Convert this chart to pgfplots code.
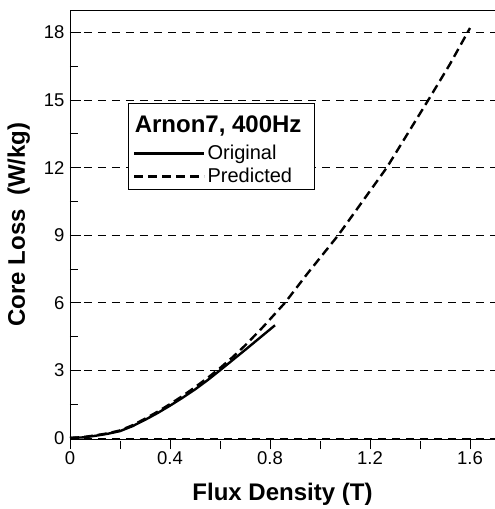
\documentclass[border=0pt]{standalone}
\usepackage{fontspec}
\setmainfont{Liberation Sans}
\usepackage{pgfplots}
\pgfplotsset{compat=1.18}
\begin{document}
\begin{tikzpicture}
\begin{axis}[
  name=ax,
  scale only axis,
  width=425pt, height=429pt,
  xmin=0, xmax=1.7, ymin=-0.05, ymax=19,
  xtick={0,0.4,0.8,1.2,1.6},
  xticklabels={0,0.4,0.8,1.2,1.6},
  ytick={0,3,6,9,12,15,18},
  minor xtick={0.2,0.6,1.0,1.4},
  minor ytick={1.5,4.5,7.5,10.5,13.5,16.5},
  xtick pos=bottom, ytick pos=left,
  tick align=inside,
  major tick length=11pt,
  minor tick length=8pt,
  xtick style={yshift=-10pt},
  tick style={black, line width=0.8pt},
  axis line style={line width=0.9pt},
  ymajorgrids,
  grid style={black, line width=0.7pt, dash pattern=on 8pt off 6pt},
  /pgf/number format/assume math mode=true,
  ticklabel style={font=\fontsize{18.5}{18.5}\selectfont},
  xticklabel style={yshift=-9pt},
  yticklabel style={xshift=-2pt},
  xlabel={\textbf{Flux Density (T)}},
  ylabel={\textbf{Core Loss\ \ (W/kg)}},
  label style={font=\fontsize{24}{24}\selectfont},
  xlabel style={yshift=-12pt},
  ylabel style={yshift=7pt},
  legend style={at={(0.136,0.783)}, anchor=north west, draw=black, line width=0.8pt,
     font=\fontsize{20}{24}\selectfont, inner xsep=5pt, inner ysep=3pt,
     row sep=3pt},
  legend cell align=left,
  legend image code/.code={\draw[#1] (0pt,0pt) -- (70pt,0pt);},
]
\addlegendimage{legend image code/.code={%
   \path[draw=none] (0pt,-12pt) -- (0pt,22pt);
   \node[overlay, anchor=base west, inner sep=0pt] at (0pt,-4pt) {\fontsize{24}{24}\selectfont\bfseries Arnon7, 400Hz};}}
\addlegendentry{}
\addplot[black, line width=2.4pt, solid] coordinates {
 (0,0) (0.05,0.02) (0.1,0.09) (0.15,0.18) (0.2,0.3) (0.25,0.52) (0.3,0.8) (0.35,1.1) (0.4,1.43)
 (0.45,1.78) (0.5,2.15) (0.55,2.56) (0.6,3.0) (0.65,3.45) (0.7,3.9) (0.76,4.45) (0.82,5.0)
};
\addlegendentry{\makebox[100pt][l]{Original}}
\addplot[black, line width=2.4pt, dash pattern=on 9pt off 5pt] coordinates {
 (0,0) (0.05,0.03) (0.1,0.11) (0.15,0.2) (0.2,0.33) (0.25,0.56) (0.3,0.85) (0.35,1.16) (0.4,1.5)
 (0.45,1.86) (0.5,2.25) (0.55,2.66) (0.6,3.1) (0.65,3.58) (0.7,4.1) (0.77,4.9) (0.86,6.0)
 (0.95,7.3) (1.073,9.0) (1.17,10.5) (1.267,12.0) (1.35,13.5) (1.433,15.0) (1.52,16.6) (1.6,18.2)
};
\addlegendentry{Predicted}
\end{axis}
\pgfresetboundingbox
\path (ax.south west) ++(-70pt,-70pt) rectangle ++(495pt,509pt);
\end{tikzpicture}
\end{document}
